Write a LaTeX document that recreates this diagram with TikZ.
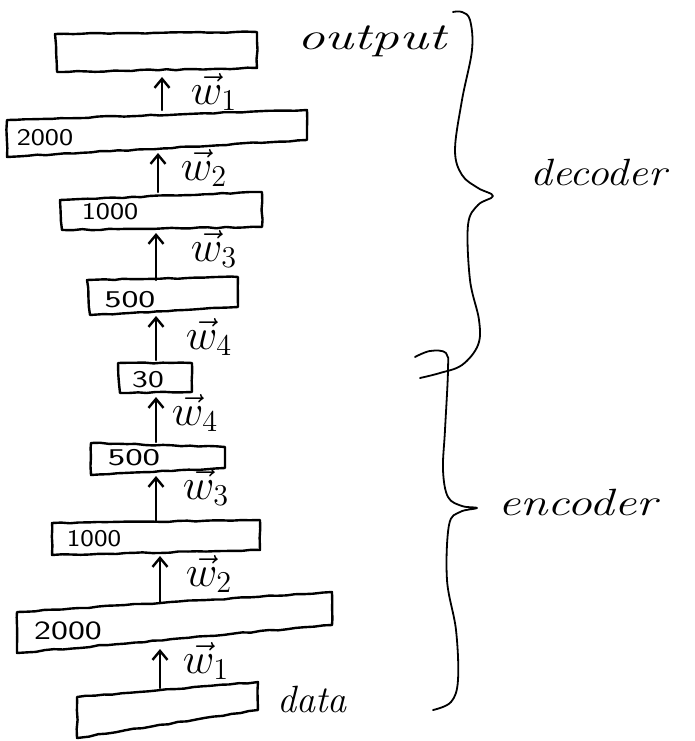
\documentclass[tikz,border=0pt]{standalone}
\usetikzlibrary{arrows.meta,decorations.pathmorphing}
\begin{document}
\begin{tikzpicture}[x=1pt,y=-1pt,
  ink/.style={line width=2.4pt, line cap=round, line join=round},
  layer/.style={ink, decorate, decoration={random steps,segment length=9pt,amplitude=0.6pt}},
  arr/.style={ink, -{Straight Barb[length=9pt,width=15pt,line width=2.4pt]}},
  brace/.style={line width=1.8pt, line cap=round, line join=round},
  num/.style={font=\sffamily\fontsize{24}{24}\selectfont, inner sep=0pt},
  wlab/.style={font=\fontsize{20}{20}\selectfont, scale=2.1, inner sep=0pt},
  hand/.style={font=\itshape\fontsize{38}{38}\selectfont, inner sep=0pt, anchor=base west},
]
\pgfmathsetseed{7}
\useasboundingbox (0,0) rectangle (695,741);

% layers, drawn by hand as slightly skewed boxes
\draw[layer] (55,34) -- (257,32) -- (257,68) -- (57,72) -- cycle;      % output
\draw[layer] (7,120) -- (307,110) -- (307,140) -- (7,157) -- cycle;    % 2000 (decoder)
\draw[layer] (60,200) -- (262,192) -- (262,227) -- (62,230) -- cycle;  % 1000 (decoder)
\draw[layer] (87,280) -- (238,277) -- (238,307) -- (90,315) -- cycle;  % 500 (decoder)
\draw[layer] (118,363) -- (192,363) -- (192,392) -- (120,393) -- cycle;% 30 (code)
\draw[layer] (91,443) -- (225,447) -- (225,468) -- (91,475) -- cycle;  % 500 (encoder)
\draw[layer] (52,523) -- (260,520) -- (260,550) -- (52,555) -- cycle;  % 1000 (encoder)
\draw[layer] (17,612) -- (332,592) -- (332,625) -- (17,653) -- cycle;  % 2000 (encoder)
\draw[layer] (77,697) -- (258,682) -- (258,710) -- (77,738) -- cycle;  % data

% layer sizes
\node[num, xscale=1.25] (n2000d) at (45,138) {2000};
\node[num, xscale=1.25] (n1000d) at (110,212) {1000};
\node[num, xscale=1.5]  (n500d)  at (130,300) {500};
\node[num, xscale=1.4]  (n30)    at (148,380) {30};
\node[num, xscale=1.55] (n500e)  at (134,458) {500};
\node[num, xscale=1.2]  (n1000e) at (94,539) {1000};
\node[num, xscale=1.5, yscale=1.1] (n2000e) at (68,631) {2000};

% arrow end points on the box edges
\coordinate (dataT)  at (160,688);
\coordinate (e2kB)   at (160,649);
\coordinate (e2kT)   at (160,603);
\coordinate (e1kB)   at (160,556);
\coordinate (e1kT)   at (156,521);
\coordinate (e5B)    at (156,476);
\coordinate (e5T)    at (156,442);
\coordinate (cB)     at (156,397);
\coordinate (cT)     at (156,360);
\coordinate (d5B)    at (156,316);
\coordinate (d5T)    at (156,280);
\coordinate (d1kB)   at (156,233);
\coordinate (d1kT)   at (158,192);
\coordinate (d2kB)   at (158,153);
\coordinate (d2kT)   at (162,110);
\coordinate (outB)   at (162,77);

\draw[arr] (dataT) -- (e2kB);
\draw[arr] (e2kT) -- (e1kB);
\draw[arr] (e1kT) -- (e5B);
\draw[arr] (e5T) -- (cB);
\draw[arr] (cT) -- (d5B);
\draw[arr] (d5T) -- (d1kB);
\draw[arr] (d1kT) -- (d2kB);
\draw[arr] (d2kT) -- (outB);

% weight labels
\node[wlab] (w1d) at (214,92)  {$\vec{w}_1$};
\node[wlab] (w2d) at (204,168) {$\vec{w}_2$};
\node[wlab] (w3d) at (214,249) {$\vec{w}_3$};
\node[wlab] (w4d) at (209,337) {$\vec{w}_4$};
\node[wlab] (w4e) at (195,413) {$\vec{w}_4$};
\node[wlab] (w3e) at (206,487) {$\vec{w}_3$};
\node[wlab] (w2e) at (209,574) {$\vec{w}_2$};
\node[wlab] (w1e) at (206,661) {$\vec{w}_1$};

% braces
\draw[brace] plot[smooth, tension=0.6] coordinates {(453,12) (462,12) (470,20) (472,50) (462,100) (455,150) (462,175) (478,188) (493,196) (478,205) (468,225) (470,280) (479,320) (478,345) (462,365) (440,373) (420,378)};
\draw[brace] plot[smooth, tension=0.6] coordinates {(415,357) (430,351) (446,353) (448,370) (445,430) (443,470) (448,497) (462,506) (477,508) (460,512) (449,525) (447,580) (456,630) (458,680) (451,702) (433,710)};

% annotations
\node[hand, xscale=1.45] (tout) at (297,50)  {output};
\node[hand, xscale=1.15] (tdec) at (530,185) {decoder};
\node[hand, xscale=1.3]  (tenc) at (498,515) {encoder};
\node[hand]              (tdat) at (277,712) {data};
\end{tikzpicture}
\end{document}
